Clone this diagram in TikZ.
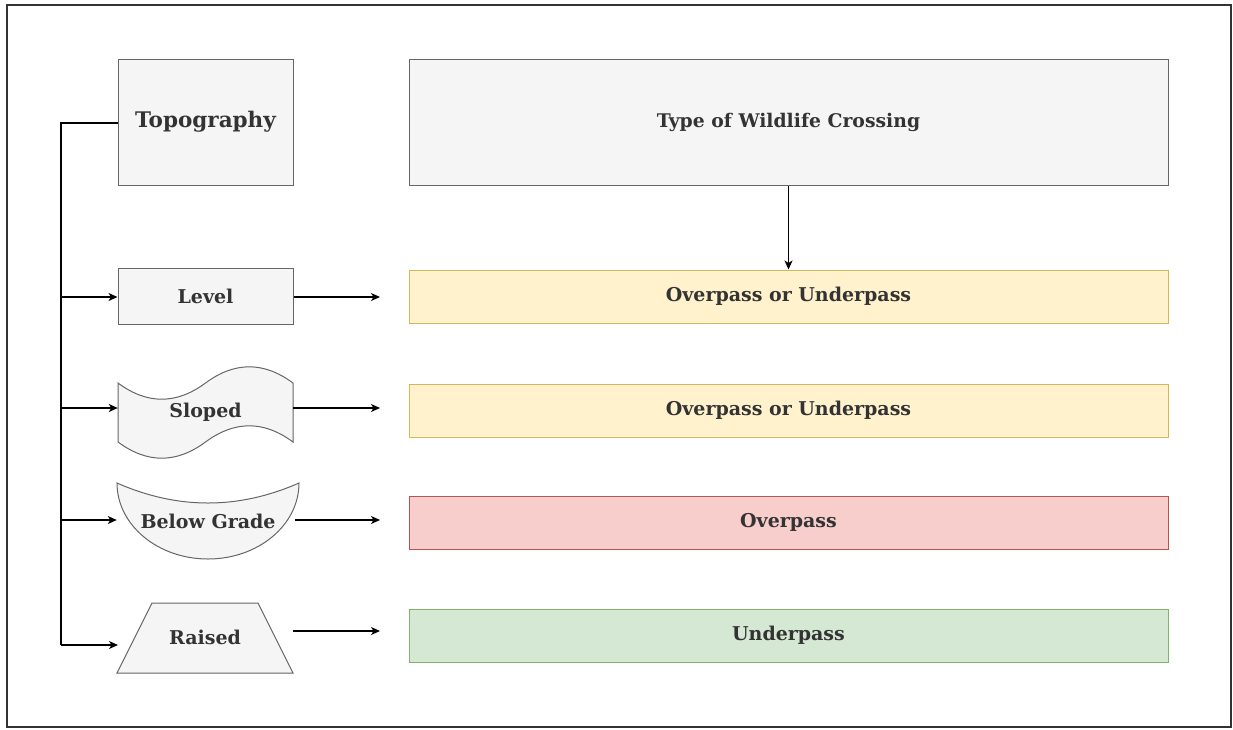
\documentclass[tikz,border=0pt]{standalone}
\usepackage{fontspec}
\setmainfont{DejaVu Serif}
\usetikzlibrary{arrows.meta}
\definecolor{txt}{HTML}{333333}
\definecolor{gfill}{HTML}{F5F5F5}
\definecolor{gline}{HTML}{666666}
\definecolor{yfill}{HTML}{FFF2CC}
\definecolor{yline}{HTML}{D6B656}
\definecolor{rfill}{HTML}{F8CECC}
\definecolor{rline}{HTML}{B85450}
\definecolor{grfill}{HTML}{D5E8D4}
\definecolor{grline}{HTML}{82B366}
\tikzset{
  lbl/.style={text=txt, font=\bfseries\fontsize{19}{22}\selectfont},
  greybox/.style={draw=gline, fill=gfill, line width=1pt, inner sep=0pt, lbl},
  resbox/.style={line width=1pt, inner sep=0pt, minimum width=759pt, minimum height=53pt, lbl},
  ghost/.style={draw=none, inner sep=0pt},
  shapeline/.style={draw=gline, fill=gfill, line width=1pt},
  conn/.style={line width=1.3pt, draw=black},
  arr/.style={conn, -{Stealth[length=9pt, width=8pt, inset=2.5pt]}},
}
\begin{document}
\begin{tikzpicture}[x=1pt, y=-1pt]
\useasboundingbox (0,0) rectangle (1233,729);
% outer frame
\draw[line width=2pt, draw=black!80] (7,5) rectangle (1231,727);

% header boxes
\node[greybox, minimum width=175pt, minimum height=126pt, font=\bfseries\fontsize{21.5}{24}\selectfont] (topo) at (205.5,122) {Topography};
\node[greybox, minimum width=759pt, minimum height=126pt, font=\bfseries\fontsize{18.8}{22}\selectfont] (type) at (788.5,122) {Type of Wildlife Crossing};

% result boxes
\node[resbox, draw=yline, fill=yfill] (r1) at (788.5,296.5) {Overpass or Underpass};
\node[resbox, draw=yline, fill=yfill] (r2) at (788.5,410.5) {Overpass or Underpass};
\node[resbox, draw=rline, fill=rfill] (r3) at (788.5,522.5) {Overpass};
\node[resbox, draw=grline, fill=grfill] (r4) at (788.5,635.5) {Underpass};

% Level
\node[greybox, minimum width=175pt, minimum height=56pt] (level) at (205.5,296) {Level};

% Sloped (tape)
\path[shapeline] (118,383) .. controls (147.17,404.6) and (176.33,404.6) .. (205.5,383)
  .. controls (234.67,361.4) and (263.83,361.4) .. (293,383)
  -- (293,442)
  .. controls (263.83,420.4) and (234.67,420.4) .. (205.5,442)
  .. controls (176.33,463.6) and (147.17,463.6) .. (118,442) -- cycle;
\node[ghost, lbl, minimum width=175pt, minimum height=95pt] (sloped) at (205.5,412) {Sloped};

% Below grade
\path[shapeline] (117,483) .. controls (177.67,509.67) and (238.33,509.67) .. (299,483)
  arc[start angle=0, end angle=-180, x radius=91pt, y radius=76pt] -- cycle;
\node[ghost, lbl, minimum width=182pt, minimum height=76pt] (below) at (208,521) {Below Grade};

% Raised (trapezoid)
\path[shapeline] (117,673) -- (152,603) -- (258,603) -- (293,673) -- cycle;
\node[ghost, lbl, minimum width=176pt, minimum height=70pt] (raised) at (205,637) {Raised};

% vertical arrow
\draw[arr] (type.south) -- (r1.north);

% left trunk
\coordinate (tl) at (61,123);
\coordinate (t1) at (61,297);
\coordinate (t2) at (61,408);
\coordinate (t3) at (61,520);
\coordinate (t4) at (61,645);
\coordinate (rin) at (118,645);
\draw[conn] (topo.west |- tl) -- (tl) -- (t4);
\draw[arr] (t1) -- (level.west |- t1);
\draw[arr] (t2) -- (sloped.west |- t2);
\draw[arr] (t3) -- (below.west |- t3);
\draw[arr] (t4) -- (rin);

% right arrows
\coordinate (e1) at (380,297);
\coordinate (e2) at (380,408);
\coordinate (e3) at (380,520);
\coordinate (e4) at (380,631);
\coordinate (s4) at (293,631);
\draw[arr] (level.east |- e1) -- (e1);
\draw[arr] (sloped.east |- e2) -- (e2);
\draw[arr] (295,520) -- (e3);
\draw[arr] (s4) -- (e4);
\end{tikzpicture}
\end{document}
